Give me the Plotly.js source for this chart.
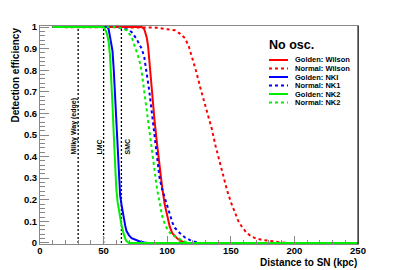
<!DOCTYPE html>
<html>
<head>
<meta charset="utf-8">
<script src="https://cdn.plot.ly/plotly-3.0.1.min.js"></script>
<style>html,body{margin:0;padding:0;background:#fff;}#chart{width:398px;height:270px;}</style>
</head>
<body>
<div id="chart"></div>
<script>
// ---- data (distance in kpc, detection efficiency) ----
const xGoldenWilson   = [10, 80, 82, 84, 85, 86, 87, 88, 90, 92, 94, 96, 98, 100, 102, 104, 106, 108, 110, 112, 114, 250];
const effGoldenWilson = [1, 1, 0.99, 0.95, 0.91, 0.84, 0.76, 0.69, 0.57, 0.46, 0.35, 0.26, 0.18, 0.12, 0.075, 0.045, 0.03, 0.02, 0.012, 0.005, 0, 0];

const xNormalWilson   = [10, 80, 90, 100, 106, 110, 114, 117, 120, 123, 126, 129, 132, 135, 138, 141, 144, 147, 150, 153, 156, 159, 162, 166, 170, 175, 180, 185, 190, 195];
const effNormalWilson = [1, 1, 0.998, 0.99, 0.985, 0.97, 0.948, 0.91, 0.855, 0.79, 0.72, 0.66, 0.6, 0.53, 0.45, 0.38, 0.31, 0.245, 0.19, 0.14, 0.1, 0.072, 0.05, 0.03, 0.02, 0.014, 0.009, 0.005, 0.002, 0];

const xGoldenNK1   = [10, 53, 54, 55, 56, 57, 58, 59, 60, 61, 62, 63, 64, 65, 66, 67, 68, 70, 72, 75, 78, 82, 85, 250];
const effGoldenNK1 = [1, 1, 0.99, 0.96, 0.92, 0.89, 0.8, 0.68, 0.56, 0.43, 0.3, 0.22, 0.18, 0.14, 0.11, 0.08, 0.055, 0.035, 0.022, 0.014, 0.008, 0.002, 0, 0];

const xNormalNK1   = [10, 60, 65, 70, 72, 74, 76, 78, 80, 82, 84, 86, 88, 90, 92, 94, 96, 98, 100, 102, 104, 106, 108, 110, 114, 118, 122, 126, 250];
const effNormalNK1 = [1, 1, 0.995, 0.985, 0.977, 0.96, 0.945, 0.92, 0.9, 0.86, 0.79, 0.7, 0.6, 0.5, 0.4, 0.3, 0.25, 0.21, 0.17, 0.13, 0.095, 0.07, 0.055, 0.045, 0.025, 0.013, 0.005, 0, 0];

const xGoldenNK2   = [10, 50, 51, 52, 53, 54, 55, 56, 57, 58, 59, 60, 61, 62, 63, 64, 65, 66, 67, 68, 69, 70, 250];
const effGoldenNK2 = [1, 1, 0.99, 0.98, 0.96, 0.93, 0.87, 0.78, 0.64, 0.5, 0.36, 0.25, 0.19, 0.15, 0.12, 0.085, 0.058, 0.035, 0.02, 0.008, 0.002, 0, 0];

const xNormalNK2   = [10, 60, 65, 68, 70, 72, 74, 76, 78, 80, 82, 84, 86, 88, 90, 92, 94, 96, 98, 100, 103, 106, 110, 114, 118, 250];
const effNormalNK2 = [1, 1, 0.995, 0.985, 0.97, 0.955, 0.92, 0.884, 0.85, 0.79, 0.7, 0.6, 0.5, 0.41, 0.32, 0.25, 0.19, 0.125, 0.09, 0.065, 0.04, 0.03, 0.015, 0.005, 0, 0];

const markerDistances = [30, 50, 64];
const markerLabels = ["Milky Way (edge)", "LMC", "SMC"];

const legendTitle = "No osc.";
const legendLabels = ["Golden: Wilson", "Normal: Wilson", "Golden: NKI", "Normal: NK1", "Golden: NK2", "Normal: NK2"];
const xTickVals = [0, 50, 100, 150, 200, 250];
const yTickVals = [0, 0.1, 0.2, 0.3, 0.4, 0.5, 0.6, 0.7, 0.8, 0.9, 1];

// ---- styling ----
const W = 398, H = 270;
const M = {l: 40, r: 40, t: 26, b: 26};
const sans = "Liberation Sans, Arial, sans-serif";
const px2x = p => (p - M.l) / (W - M.l - M.r);
const px2y = p => (H - M.b - p) / (H - M.t - M.b);

const seriesStyle = [
  {x: xGoldenWilson, y: effGoldenWilson, color: "#ff0000", dash: "solid"},
  {x: xNormalWilson, y: effNormalWilson, color: "#ff0000", dash: "dot"},
  {x: xGoldenNK1, y: effGoldenNK1, color: "#0000ff", dash: "solid"},
  {x: xNormalNK1, y: effNormalNK1, color: "#0000ff", dash: "dot"},
  {x: xNormalNK2, y: effNormalNK2, color: "#00ee00", dash: "dot"},
  {x: xGoldenNK2, y: effGoldenNK2, color: "#00ee00", dash: "solid"}
];
const legendOrder = [0, 1, 2, 3, 5, 4];

const traces = [];
markerDistances.forEach(d => {
  traces.push({x: [d, d], y: [0, 1], mode: "lines", line: {color: "#000", width: 1.3, dash: "2px,2px"}, hoverinfo: "skip", showlegend: false});
});
seriesStyle.forEach(s => {
  traces.push({x: s.x, y: s.y, mode: "lines", line: {color: s.color, width: 2, dash: s.dash}, showlegend: false});
});

const annotations = [];
const shapes = [];
// marker labels
const labelPos = [[73.5, 126], [98.5, 147], [126.5, 147]];
markerLabels.forEach((t, i) => {
  annotations.push({text: t, xref: "paper", yref: "paper", x: px2x(labelPos[i][0]), y: px2y(labelPos[i][1]),
    xanchor: "center", yanchor: "middle", textangle: -90, showarrow: false, borderpad: 0,
    font: {family: sans, size: 7, weight: "bold", color: "#000"}});
});
// legend
annotations.push({text: legendTitle, xref: "paper", yref: "paper", x: px2x(268), y: px2y(45),
  xanchor: "left", yanchor: "middle", showarrow: false, borderpad: 0, font: {family: sans, size: 12.5, weight: "bold", color: "#000"}});
const rows = [60, 68.5, 77, 85.5, 94, 102.5];
legendLabels.forEach((t, i) => {
  const s = seriesStyle[legendOrder[i]];
  shapes.push({type: "line", xref: "paper", yref: "paper", x0: px2x(269), x1: px2x(288), y0: px2y(rows[i]), y1: px2y(rows[i]),
    line: {color: s.color, width: 2, dash: s.dash}});
  annotations.push({text: t, xref: "paper", yref: "paper", x: px2x(294), y: px2y(rows[i]),
    xanchor: "left", yanchor: "middle", showarrow: false, borderpad: 0, font: {family: sans, size: 7.5, weight: "bold", color: "#000"}});
});
// axis titles
annotations.push({text: "Distance to SN (kpc)", xref: "paper", yref: "paper", x: 1, y: px2y(262.5),
  xanchor: "right", yanchor: "middle", showarrow: false, borderpad: 0, font: {family: sans, size: 10, weight: "bold", color: "#000"}});
annotations.push({text: "Detection efficiency", xref: "paper", yref: "paper", x: px2x(15), y: px2y(27),
  xanchor: "center", yanchor: "top", textangle: -90, showarrow: false, borderpad: 0, font: {family: sans, size: 10, weight: "bold", color: "#000"}});
// right frame
shapes.push({type: "line", xref: "paper", yref: "paper", x0: 1, x1: 1, y0: 0, y1: 1, line: {color: "#000", width: 1}});

const layout = {
  width: W, height: H, margin: M,
  paper_bgcolor: "#fff", plot_bgcolor: "#fff",
  showlegend: false,
  xaxis: {range: [0, 250], tickvals: xTickVals, ticks: "inside", ticklen: 8, tickcolor: "#888", tickwidth: 1,
    ticklabelstandoff: -2,
    minor: {dtick: 10, tick0: 0, ticks: "inside", ticklen: 4, tickcolor: "#888"},
    showgrid: false, zeroline: false, showline: true, linecolor: "#888", mirror: true,
    tickfont: {family: sans, size: 9.5, weight: "bold", color: "#000"}},
  yaxis: {range: [-0.005, 1.005], tickvals: yTickVals, ticks: "inside", ticklen: 9, tickcolor: "#888", tickwidth: 1,
    minor: {dtick: 0.02, tick0: 0, ticks: "inside", ticklen: 5, tickcolor: "#888"},
    showgrid: false, zeroline: false, showline: true, linecolor: "#888", mirror: true,
    tickfont: {family: sans, size: 9.5, weight: "bold", color: "#000"}},
  annotations: annotations,
  shapes: shapes
};

Plotly.newPlot("chart", traces, layout, {staticPlot: true, displayModeBar: false});
</script>
</body>
</html>
